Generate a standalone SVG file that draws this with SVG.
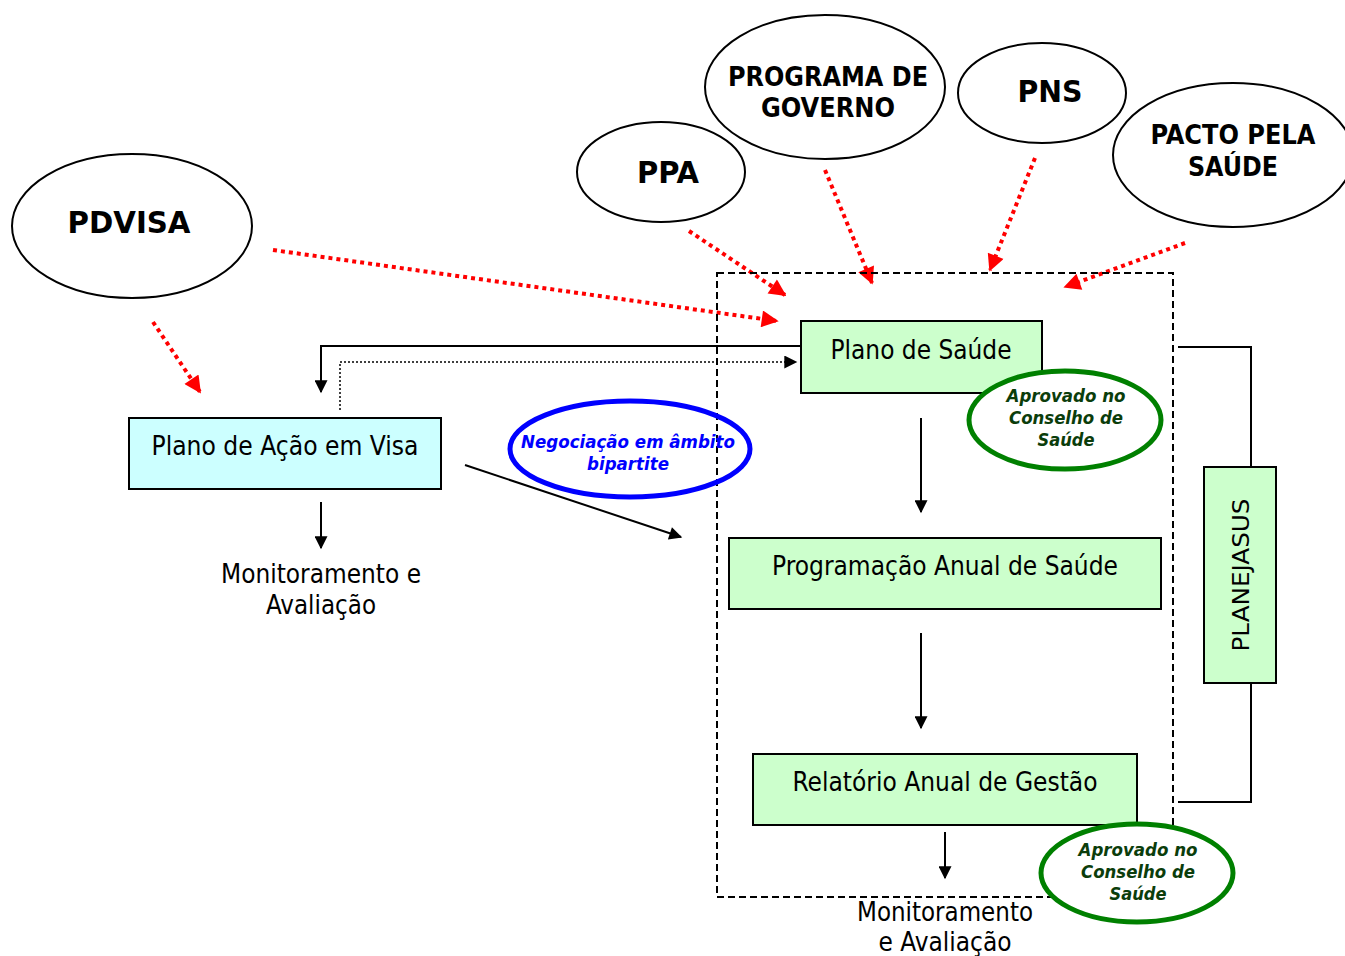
<svg xmlns="http://www.w3.org/2000/svg" width="1345" height="956" viewBox="0 0 1345 956">
<defs>
<style>
.t{font-family:"DejaVu Sans Condensed","DejaVu Sans",Verdana,sans-serif;fill:#000}
.n{font-size:26px}
.b{font-size:30px;font-weight:bold}
.g{font-size:18px;font-weight:bold;font-style:italic;fill:#0b3d0b}
.bl{font-size:18px;font-weight:bold;font-style:italic;fill:#0000ff}
.oval{fill:#fff;stroke:#000;stroke-width:2}
.box{stroke:#000;stroke-width:2}
.red{stroke:#ff0000;stroke-width:4;stroke-dasharray:4 4;fill:none;marker-end:url(#ra)}
.blk{stroke:#000;stroke-width:2;fill:none}
</style>
<marker id="ra" viewBox="0 0 10 10" refX="9" refY="5" markerWidth="19" markerHeight="17" markerUnits="userSpaceOnUse" orient="auto"><path d="M0,0 L10,5 L0,10 z" fill="#ff0000"/></marker>
<marker id="ba" viewBox="0 0 10 10" refX="9" refY="5" markerWidth="15" markerHeight="13" markerUnits="userSpaceOnUse" orient="auto"><path d="M0,0 L10,5 L0,10 z" fill="#000"/></marker>
</defs>
<rect width="1345" height="956" fill="#fff"/>

<g id="connectors">
<line class="red" x1="153" y1="322" x2="200" y2="392"/>
<line class="red" x1="273" y1="250" x2="777" y2="321"/>
<line class="red" x1="689" y1="231" x2="785" y2="295"/>
<line class="red" x1="825" y1="170" x2="872" y2="283"/>
<line class="red" x1="1035" y1="158" x2="990" y2="270"/>
<line class="red" x1="1185" y1="243" x2="1065" y2="287"/>
<polyline class="blk" points="801,346 321,346 321,392" marker-end="url(#ba)"/>
<polyline points="340,410 340,362 796,362" fill="none" stroke="#000" stroke-width="1.5" stroke-dasharray="2 2" marker-end="url(#ba)"/>
<line class="blk" x1="921" y1="418" x2="921" y2="512" marker-end="url(#ba)"/>
<line class="blk" x1="921" y1="633" x2="921" y2="728" marker-end="url(#ba)"/>
<line class="blk" x1="945" y1="832" x2="945" y2="878" marker-end="url(#ba)"/>
<line class="blk" x1="321" y1="502" x2="321" y2="548" marker-end="url(#ba)"/>
<line class="blk" x1="465" y1="465" x2="681" y2="537" marker-end="url(#ba)"/>
<polyline class="blk" points="1178,347 1251,347 1251,467"/>
<polyline class="blk" points="1251,683 1251,802 1178,802"/>
</g>

<g id="frame">
<rect x="717" y="273" width="456" height="624" fill="none" stroke="#000" stroke-width="2" stroke-dasharray="7 4"/>
</g>

<g id="pdvisa">
<ellipse class="oval" cx="132" cy="226" rx="120" ry="72"/>
<text class="t b" x="129" y="233" text-anchor="middle" textLength="123" lengthAdjust="spacingAndGlyphs">PDVISA</text>
</g>
<g id="ppa">
<ellipse class="oval" cx="661" cy="172" rx="84" ry="50"/>
<text class="t b" x="668" y="183" text-anchor="middle" textLength="62" lengthAdjust="spacingAndGlyphs">PPA</text>
</g>
<g id="programa">
<ellipse class="oval" cx="825" cy="87" rx="120" ry="72"/>
<text class="t" x="828" y="86" text-anchor="middle" font-size="26" font-weight="bold" textLength="200" lengthAdjust="spacingAndGlyphs">PROGRAMA DE</text>
<text class="t" x="828" y="117" text-anchor="middle" font-size="26" font-weight="bold" textLength="134" lengthAdjust="spacingAndGlyphs">GOVERNO</text>
</g>
<g id="pns">
<ellipse class="oval" cx="1042" cy="93" rx="84" ry="50"/>
<text class="t b" x="1050" y="102" text-anchor="middle" textLength="65" lengthAdjust="spacingAndGlyphs">PNS</text>
</g>
<g id="pacto">
<ellipse class="oval" cx="1233" cy="155" rx="120" ry="72"/>
<text class="t" x="1233" y="144" text-anchor="middle" font-size="26" font-weight="bold" textLength="165" lengthAdjust="spacingAndGlyphs">PACTO PELA</text>
<text class="t" x="1233" y="176" text-anchor="middle" font-size="26" font-weight="bold" textLength="90" lengthAdjust="spacingAndGlyphs">SAÚDE</text>
</g>

<g id="plano-acao-visa">
<rect class="box" x="129" y="418" width="312" height="71" fill="#ccffff"/>
<text class="t n" x="285" y="455" text-anchor="middle" textLength="267" lengthAdjust="spacingAndGlyphs">Plano de Ação em Visa</text>
</g>
<g id="monit-visa">
<text class="t n" x="321" y="583" text-anchor="middle" textLength="200" lengthAdjust="spacingAndGlyphs">Monitoramento e</text>
<text class="t n" x="321" y="614" text-anchor="middle" textLength="110" lengthAdjust="spacingAndGlyphs">Avaliação</text>
</g>

<g id="negociacao">
<ellipse cx="630" cy="449" rx="120" ry="48" fill="none" stroke="#0000ff" stroke-width="5"/>
<text class="t bl" x="628" y="448" text-anchor="middle" textLength="214" lengthAdjust="spacingAndGlyphs">Negociação em âmbito</text>
<text class="t bl" x="628" y="470" text-anchor="middle" textLength="82" lengthAdjust="spacingAndGlyphs">bipartite</text>
</g>

<g id="plano-saude">
<rect class="box" x="801" y="321" width="241" height="72" fill="#ccffcc"/>
<text class="t n" x="921" y="359" text-anchor="middle" textLength="181" lengthAdjust="spacingAndGlyphs">Plano de Saúde</text>
</g>
<g id="aprovado1">
<ellipse cx="1065" cy="420" rx="96" ry="49" fill="#fff" stroke="#008000" stroke-width="5"/>
<text class="t g" x="1066" y="402" text-anchor="middle" textLength="119" lengthAdjust="spacingAndGlyphs">Aprovado no</text>
<text class="t g" x="1066" y="424" text-anchor="middle" textLength="114" lengthAdjust="spacingAndGlyphs">Conselho de</text>
<text class="t g" x="1066" y="446" text-anchor="middle" textLength="57" lengthAdjust="spacingAndGlyphs">Saúde</text>
</g>

<g id="programacao">
<rect class="box" x="729" y="538" width="432" height="71" fill="#ccffcc"/>
<text class="t n" x="945" y="575" text-anchor="middle" textLength="346" lengthAdjust="spacingAndGlyphs">Programação Anual de Saúde</text>
</g>

<g id="relatorio">
<rect class="box" x="753" y="754" width="384" height="71" fill="#ccffcc"/>
<text class="t n" x="945" y="791" text-anchor="middle" textLength="305" lengthAdjust="spacingAndGlyphs">Relatório Anual de Gestão</text>
</g>
<g id="aprovado2">
<ellipse cx="1137" cy="873" rx="96" ry="49" fill="#fff" stroke="#008000" stroke-width="5"/>
<text class="t g" x="1138" y="856" text-anchor="middle" textLength="119" lengthAdjust="spacingAndGlyphs">Aprovado no</text>
<text class="t g" x="1138" y="878" text-anchor="middle" textLength="114" lengthAdjust="spacingAndGlyphs">Conselho de</text>
<text class="t g" x="1138" y="900" text-anchor="middle" textLength="57" lengthAdjust="spacingAndGlyphs">Saúde</text>
</g>

<g id="monit-saude">
<text class="t n" x="945" y="921" text-anchor="middle" textLength="176" lengthAdjust="spacingAndGlyphs">Monitoramento</text>
<text class="t n" x="945" y="951" text-anchor="middle" textLength="133" lengthAdjust="spacingAndGlyphs">e Avaliação</text>
</g>

<g id="planejasus">
<rect class="box" x="1204" y="467" width="72" height="216" fill="#ccffcc"/>
<text class="t" font-size="23" transform="translate(1249,575) rotate(-90)" text-anchor="middle" textLength="153" lengthAdjust="spacingAndGlyphs">PLANEJASUS</text>
</g>
</svg>
